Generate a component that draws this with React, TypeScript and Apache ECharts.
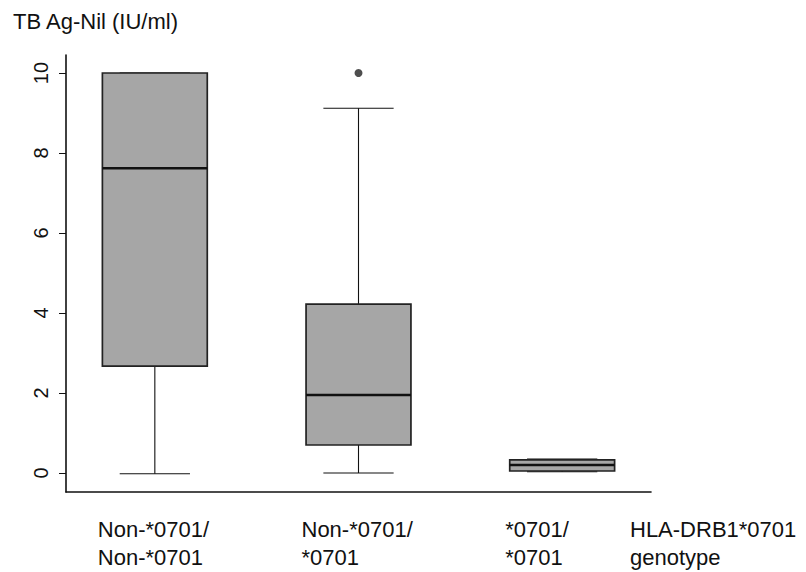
import React, { useEffect, useRef } from "react";
import * as echarts from "echarts";

const categories = ["Non-*0701/\nNon-*0701", "Non-*0701/\n*0701", "*0701/\n*0701"];
const whiskerLow = [-0.02, 0.0, 0.03];
const q1Values = [2.67, 0.7, 0.05];
const medianValues = [7.62, 1.95, 0.2];
const q3Values = [10.0, 4.22, 0.33];
const whiskerHigh = [10.0, 9.12, 0.35];
const outliers: [number, number][] = [[1, 10.0]];
const yTicks = [0, 2, 4, 6, 8, 10];
const yTitle = "TB Ag-Nil (IU/ml)";
const xTitle = "HLA-DRB1*0701\ngenotype";

const FONT = "'Liberation Sans', Arial, Helvetica, sans-serif";
const INK = "#111111";

export default function App() {
  const ref = useRef<HTMLDivElement>(null);
  useEffect(() => {
    if (!ref.current) return;
    const chart = echarts.init(ref.current, undefined, { renderer: "svg" });
    const boxData = categories.map((_, i) => [
      i,
      whiskerLow[i],
      q1Values[i],
      medianValues[i],
      q3Values[i],
      whiskerHigh[i],
    ]);
    const yMin = -0.475;
    const yMax = 10.45;
    chart.setOption({
      animation: false,
      backgroundColor: "#ffffff",
      grid: [
        { left: 53, right: 142, top: 55, bottom: 80 },
        { left: 66, right: 155, top: 55, bottom: 80 },
      ],
      xAxis: [
        {
          type: "category",
          gridIndex: 0,
          data: categories,
          boundaryGap: true,
          axisLine: { show: false },
          axisTick: { show: false },
          axisLabel: { show: false },
          splitLine: { show: false },
        },
        {
          type: "value",
          gridIndex: 1,
          min: 0,
          max: 1,
          axisLine: { show: true, onZero: false, lineStyle: { color: INK, width: 1.6 } },
          axisTick: { show: false },
          axisLabel: { show: false },
          splitLine: { show: false },
        },
      ],
      yAxis: [
        {
          type: "value",
          gridIndex: 0,
          min: yMin,
          max: yMax,
          axisLine: { show: false },
          axisTick: { show: false },
          axisLabel: { show: false },
          splitLine: { show: false },
        },
        {
          type: "value",
          gridIndex: 1,
          min: yMin,
          max: yMax,
          axisLine: { show: true, onZero: false, lineStyle: { color: INK, width: 1.6 } },
          axisTick: {
            show: true,
            customValues: yTicks,
            length: 7,
            lineStyle: { color: INK, width: 1 },
          },
          axisLabel: {
            show: true,
            customValues: yTicks,
            rotate: 90,
            margin: 15,
            fontSize: 20,
            fontFamily: FONT,
            color: INK,
          },
          splitLine: { show: false },
        },
      ],
      series: [
        {
          type: "custom",
          xAxisIndex: 0,
          yAxisIndex: 0,
          data: boxData,
          encode: { x: 0, y: [1, 2, 3, 4, 5] },
          renderItem: (params: any, api: any) => {
            const idx = api.value(0);
            const pLow = api.coord([idx, api.value(1)]);
            const pQ1 = api.coord([idx, api.value(2)]);
            const pMed = api.coord([idx, api.value(3)]);
            const pQ3 = api.coord([idx, api.value(4)]);
            const pHigh = api.coord([idx, api.value(5)]);
            const band = api.size([1, 0])[0];
            const cx = pMed[0];
            const boxW = band * 0.515;
            const capW = band * 0.345;
            const lineStyle = { stroke: INK, lineWidth: 1.1 };
            return {
              type: "group",
              children: [
                {
                  type: "line",
                  shape: { x1: cx, y1: pQ3[1], x2: cx, y2: pHigh[1] },
                  style: lineStyle,
                },
                {
                  type: "line",
                  shape: { x1: cx, y1: pQ1[1], x2: cx, y2: pLow[1] },
                  style: lineStyle,
                },
                {
                  type: "line",
                  shape: { x1: cx - capW / 2, y1: pHigh[1], x2: cx + capW / 2, y2: pHigh[1] },
                  style: lineStyle,
                },
                {
                  type: "line",
                  shape: { x1: cx - capW / 2, y1: pLow[1], x2: cx + capW / 2, y2: pLow[1] },
                  style: lineStyle,
                },
                {
                  type: "rect",
                  shape: { x: cx - boxW / 2, y: pQ3[1], width: boxW, height: pQ1[1] - pQ3[1] },
                  style: { fill: "#a6a6a6", stroke: "#222222", lineWidth: 1.7 },
                },
                {
                  type: "line",
                  shape: { x1: cx - boxW / 2, y1: pMed[1], x2: cx + boxW / 2, y2: pMed[1] },
                  style: { stroke: "#111111", lineWidth: 2.6 },
                },
              ],
            };
          },
        },
        {
          type: "scatter",
          xAxisIndex: 0,
          yAxisIndex: 0,
          data: outliers,
          symbol: "circle",
          symbolSize: 8,
          itemStyle: { color: "#222222" },
        },
      ],
    });

    const labelGraphics = categories.map((c, i) => {
      const px = chart.convertToPixel({ xAxisIndex: 0 }, i) as number;
      return {
        type: "text",
        left: px - 57,
        top: 515,
        style: {
          text: c,
          fontSize: 22,
          lineHeight: 28,
          fontFamily: FONT,
          fill: INK,
          textAlign: "left",
        },
      };
    });
    chart.setOption({
      graphic: [
        {
          type: "text",
          left: 13,
          top: 10,
          style: { text: yTitle, fontSize: 22, fontFamily: FONT, fill: INK },
        },
        ...labelGraphics,
        {
          type: "text",
          left: 630,
          top: 515,
          style: { text: xTitle, fontSize: 22, lineHeight: 28, fontFamily: FONT, fill: INK },
        },
      ],
    });
    return () => chart.dispose();
  }, []);
  return (
    <div
      ref={ref}
      style={{ position: "fixed", left: 0, top: 0, width: 806, height: 572, background: "#fff" }}
    />
  );
}
